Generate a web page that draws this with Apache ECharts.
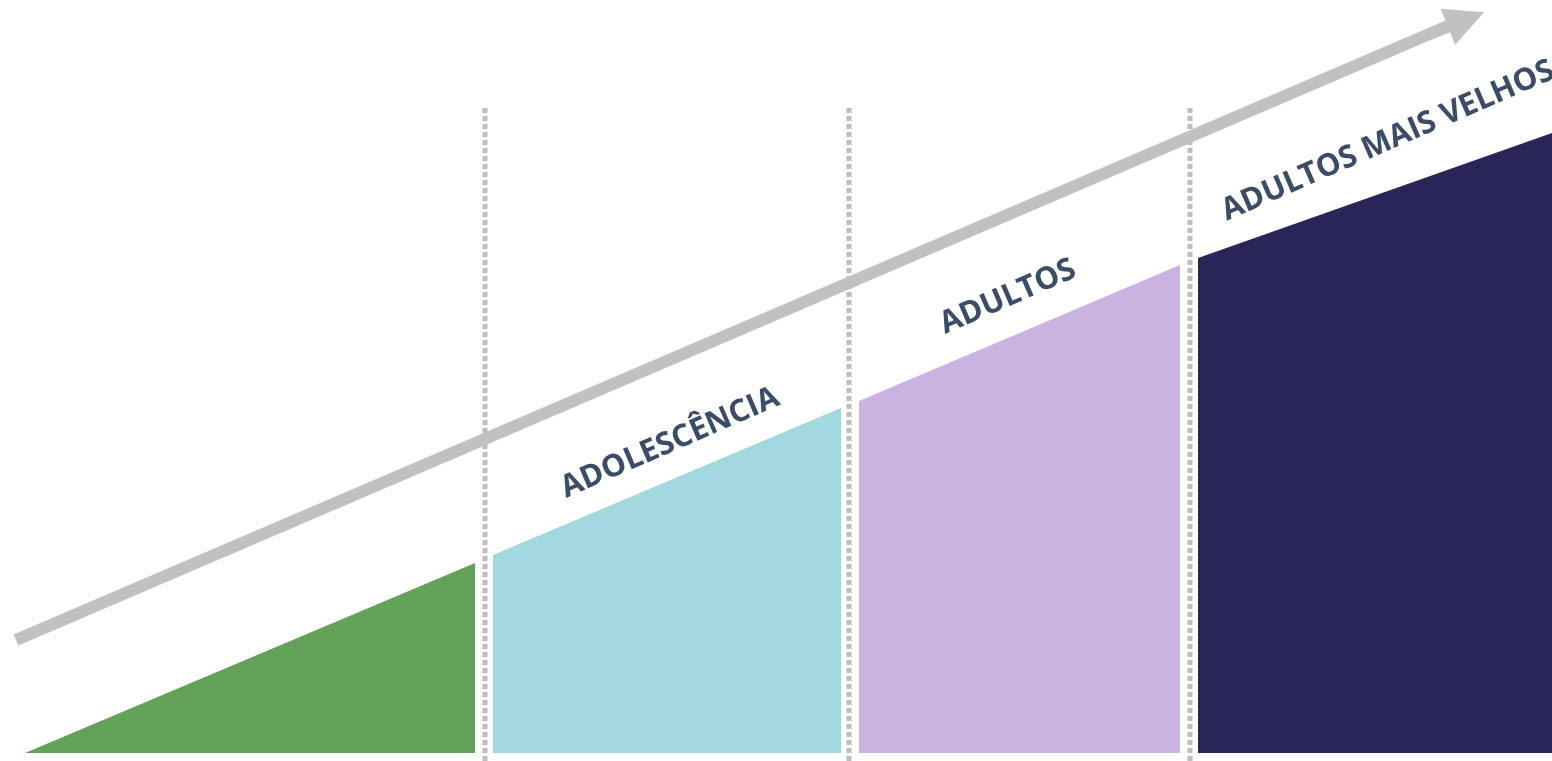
<!DOCTYPE html>
<html>
<head>
<meta charset="utf-8">
<script src="https://cdn.jsdelivr.net/npm/echarts@6/dist/echarts.min.js"></script>
<style>
  html, body { margin: 0; padding: 0; background: #fff; }
  #chart { width: 1552px; height: 761px; }
</style>
</head>
<body>
<div id="chart"></div>
<script>
// fases da vida: segmentos [x, altura]
const stageNames = ['ADOLESCÊNCIA', 'ADULTOS', 'ADULTOS MAIS VELHOS'];
const infancia = [[25, 0], [475, 190]];
const adolescencia = [[493, 198], [841, 345]];
const adultos = [[859, 352], [1180, 488]];
const maisVelhos = [[1198, 495], [1552, 620]];
const dividerX = [485, 849, 1190];
const dividerTop = 646;
const arrowShaft = [[16, 113], [1448, 727]];
const arrowHead = [[1430, 719], [1466, 733.5]];
const labelPoints = [[670, 310], [1008, 456], [1388, 612]];

const colors = ['#64a25a', '#a2d9de', '#cbb3e1', '#282658'];

function areaSeries(data, color) {
  return {
    type: 'line',
    data: data,
    symbol: 'none',
    lineStyle: { width: 0 },
    areaStyle: { color: color, opacity: 1, origin: 0 },
    silent: true,
    z: 2
  };
}

const series = [
  areaSeries(infancia, colors[0]),
  areaSeries(adolescencia, colors[1]),
  areaSeries(adultos, colors[2]),
  areaSeries(maisVelhos, colors[3])
];

dividerX.forEach(function (x) {
  series.push({
    type: 'line',
    data: [[x, -8], [x, dividerTop]],
    symbol: 'none',
    lineStyle: { color: '#bcbcbc', width: 5, type: [5, 3] },
    silent: true,
    z: 3
  });
});

// seta cinzenta
series.push({
  type: 'line',
  data: arrowShaft,
  symbol: 'none',
  lineStyle: { color: '#c1c1c1', width: 12, cap: 'butt' },
  silent: true,
  z: 4,
  markLine: {
    silent: true,
    symbol: ['none', 'triangle'],
    symbolSize: [39, 39],
    label: { show: false },
    lineStyle: { color: '#c1c1c1', width: 12, type: 'solid' },
    data: [[{ coord: arrowHead[0] }, { coord: arrowHead[1] }]]
  }
});

// rótulos inclinados
series.push({
  type: 'scatter',
  data: labelPoints.map(function (p, i) { return { value: p, name: stageNames[i] }; }),
  symbolSize: 0,
  itemStyle: { opacity: 1 },
  silent: true,
  z: 5,
  label: {
    show: true,
    position: 'inside',
    formatter: '{b}',
    rotate: 23.5,
    color: '#3b4d66',
    opacity: 1,
    textBorderWidth: 0,
    fontFamily: 'Open Sans',
    fontWeight: 'bold',
    fontSize: 31
  }
});

const chart = echarts.init(document.getElementById('chart'));
chart.setOption({
  animation: false,
  grid: { left: 0, right: 0, top: 0, bottom: 0 },
  xAxis: { type: 'value', min: 0, max: 1552, show: false },
  yAxis: { type: 'value', min: -8, max: 753, show: false },
  series: series
});
</script>
</body>
</html>
